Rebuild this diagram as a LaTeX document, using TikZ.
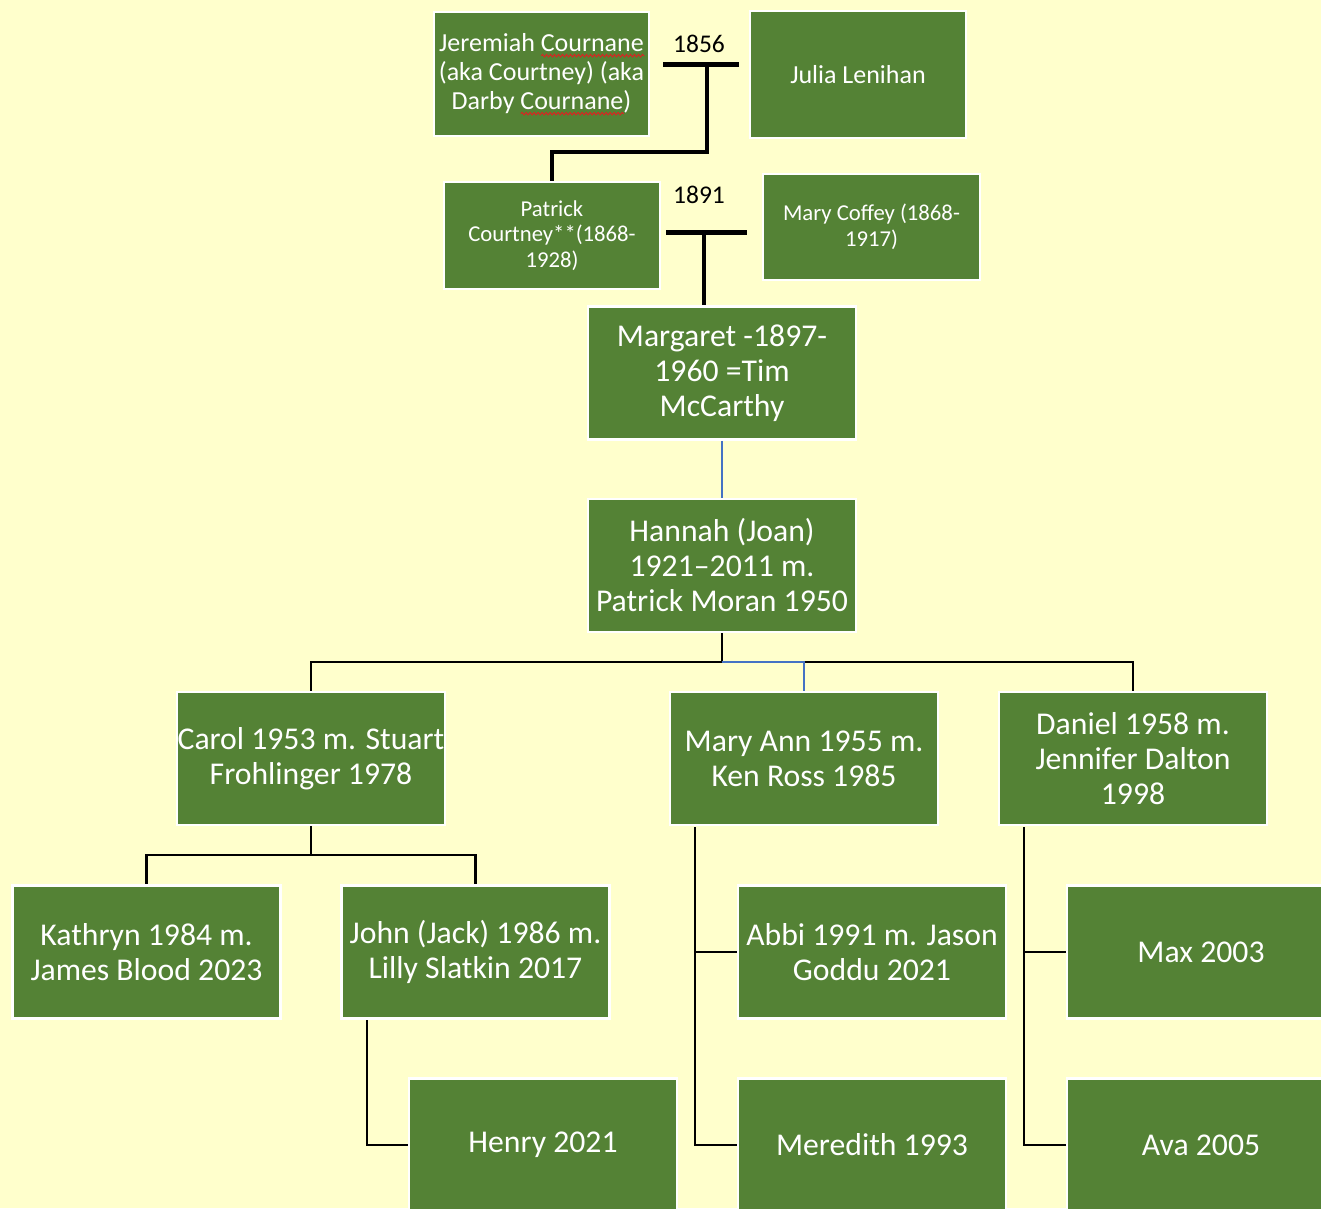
\documentclass[tikz,border=0pt]{standalone}
\usepackage{fontspec}
\setmainfont{Carlito}
\usetikzlibrary{decorations.pathmorphing}
\definecolor{paper}{HTML}{FFFFCC}
\definecolor{leaf}{HTML}{548235}
\definecolor{linkblue}{HTML}{4472C4}
\definecolor{spellred}{HTML}{E02020}
% red wavy underline, as a spell checker marks a word
\newlength\spellw
\newcommand\spellwave[1]{\settowidth\spellw{#1}%
  \rlap{\raisebox{-5.5pt}[0pt][0pt]{\tikz\draw[spellred, fill=none, line width=0.9pt, decorate,
    decoration={snake, amplitude=1.3pt, segment length=4pt}] (0pt,0pt) -- (\spellw,0pt);}}#1}
\tikzset{
  person/.style={rectangle, fill=leaf, draw=white, line width=2.5pt, inner sep=0pt,
    text=white, align=center},
  bigbox/.style={person, minimum width=268pt, minimum height=133pt,
    font=\fontsize{31.7}{35}\selectfont},
  topbox/.style={person, font=\fontsize{26}{29}\selectfont},
  smallbox/.style={person, font=\fontsize{22.7}{25.5}\selectfont},
  year/.style={font=\fontsize{25.5}{28}\selectfont, text=black, inner sep=0pt},
  wed/.style={line width=5pt},
  kin/.style={line width=2.5pt},
  bluekin/.style={line width=2pt, draw=linkblue},
}
\begin{document}
\begin{tikzpicture}[x=1pt,y=-1pt]
\useasboundingbox (0,0) rectangle (1321,1208);
\clip (0,0) rectangle (1321,1208);
\fill[paper] (0,0) rectangle (1321,1208);

% first two generations
\node[topbox, minimum width=215pt, minimum height=124pt]
  (jer) at (541.5,74) {Jeremiah \spellwave{Cournane}\\(aka Courtney) (aka\\Darby \spellwave{Cournane})};
\node[topbox, minimum width=216pt, minimum height=127pt]
  (julia) at (858,74.5) {Julia Lenihan};
\node[smallbox, minimum width=216pt, minimum height=107pt]
  (pat) at (552,235.5) {Patrick\\Courtney**(1868-\\1928)};
\node[smallbox, minimum width=217pt, minimum height=106pt, font=\fontsize{22.7}{26}\selectfont]
  (coffey) at (871.5,227) {Mary Coffey (1868-\\1917)};

\node[year] (y1856) at (699,44) {1856};
\node[year] (y1891) at (699,195) {1891};

% marriage bars
\coordinate (w1l) at (663,64);
\coordinate (w1r) at (739,64);
\coordinate (w1c) at (707,64);
\coordinate (w2l) at (666,232);
\coordinate (w2r) at (747,232);
\coordinate (w2c) at (704,232);

\node[bigbox] (marg) at (722,373) {Margaret -1897-\\1960 =Tim\\McCarthy};
\node[bigbox] (hannah) at (722,565.5) {Hannah (Joan)\\1921--2011 m.\\Patrick Moran 1950};

\node[bigbox] (carol) at (311,758.5) {Carol 1953 m. Stuart\\Frohlinger 1978};
\node[bigbox] (maryann) at (804,758.5) {Mary Ann 1955 m.\\Ken Ross 1985};
\node[bigbox] (daniel) at (1133,758.5) {Daniel 1958 m.\\Jennifer Dalton\\1998};

\node[bigbox] (kathryn) at (146.5,952) {Kathryn 1984 m.\\James Blood 2023};
\node[bigbox] (john) at (475.5,952) {John (Jack) 1986 m.\\Lilly Slatkin 2017};
\node[bigbox] (abbi) at (872,952) {Abbi 1991 m. Jason\\Goddu 2021};
\node[bigbox] (max) at (1201,952) {Max 2003};

\node[bigbox] (henry) at (543,1145) {Henry 2021};
\node[bigbox] (meredith) at (872,1145) {Meredith 1993};
\node[bigbox] (ava) at (1201,1145) {Ava 2005};

% connectors
\draw[wed] (w1l) -- (w1r);
\draw[line width=4.5pt] (w1c) -- (707,152) -| (pat.north);
\draw[wed] (w2l) -- (w2r);
\draw[line width=4.5pt] (w2c) -- (marg.north -| w2c);

\draw[bluekin] (marg.south) -- (hannah.north);

\draw[kin] (hannah.south) -- (722,662) -| (carol.north);
\draw[kin] (804,662) -| (daniel.north);
\draw[bluekin] (722,662) -| (maryann.north);

\draw[kin] (carol.south) -- (311,855) -| (kathryn.north);
\draw[kin] (311,855) -| (john.north);

\draw[kin] (367,1020) |- (henry.west);
\draw[kin] (695,827) |- (meredith.west);
\draw[kin] (695,952) -- (abbi.west);
\draw[kin] (1024,827) |- (ava.west);
\draw[kin] (1024,952) -- (max.west);
\end{tikzpicture}
\end{document}
